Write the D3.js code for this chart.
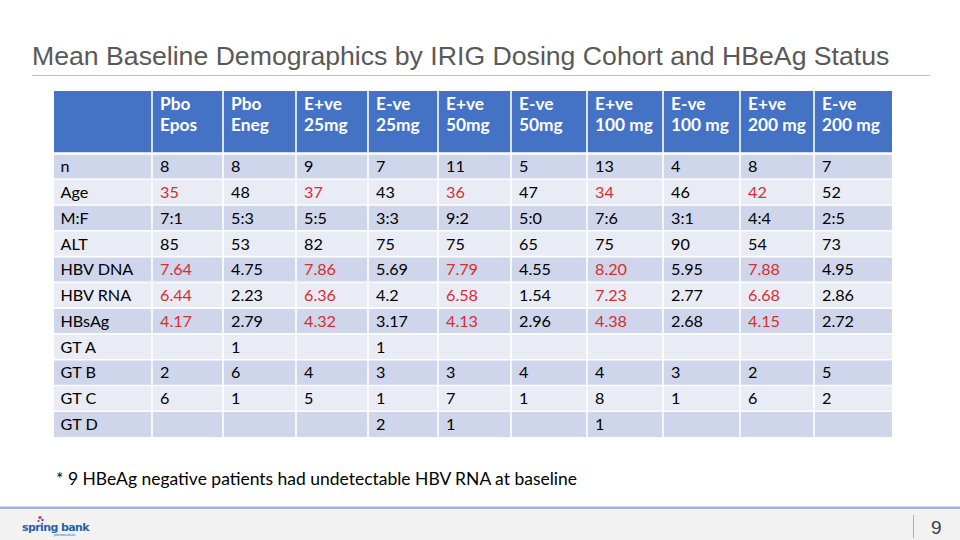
<!DOCTYPE html>
<html><head><meta charset="utf-8">
<script src="https://cdn.jsdelivr.net/npm/d3@7"></script>
<style>html,body{margin:0;padding:0;background:#fff;overflow:hidden}</style>
</head><body><svg id="c" width="960" height="540"></svg>
<script>
// ---- data ----
const title = "Mean Baseline Demographics by IRIG Dosing Cohort and HBeAg Status";
const headerLine1 = ["Pbo","Pbo","E+ve","E-ve","E+ve","E-ve","E+ve","E-ve","E+ve","E-ve"];
const headerLine2 = ["Epos","Eneg","25mg","25mg","50mg","50mg","100 mg","100 mg","200 mg","200 mg"];
const rowLabels = ["n","Age","M:F","ALT","HBV DNA","HBV RNA","HBsAg","GT A","GT B","GT C","GT D"];
const nRow     = ["8","8","9","7","11","5","13","4","8","7"];
const ageRow   = ["35","48","37","43","36","47","34","46","42","52"];
const mfRow    = ["7:1","5:3","5:5","3:3","9:2","5:0","7:6","3:1","4:4","2:5"];
const altRow   = ["85","53","82","75","75","65","75","90","54","73"];
const dnaRow   = ["7.64","4.75","7.86","5.69","7.79","4.55","8.20","5.95","7.88","4.95"];
const rnaRow   = ["6.44","2.23","6.36","4.2","6.58","1.54","7.23","2.77","6.68","2.86"];
const hbsagRow = ["4.17","2.79","4.32","3.17","4.13","2.96","4.38","2.68","4.15","2.72"];
const gtARow   = ["","1","","1","","","","","",""];
const gtBRow   = ["2","6","4","3","3","4","4","3","2","5"];
const gtCRow   = ["6","1","5","1","7","1","8","1","6","2"];
const gtDRow   = ["","","","2","1","","1","","",""];
const highlightRows = ["Age","HBV DNA","HBV RNA","HBsAg"];
const highlightCols = [0, 2, 4, 6, 8];
const footnote = "* 9 HBeAg negative patients had undetectable HBV RNA at baseline";
const pageNumber = "9";

const tableRows = [nRow,ageRow,mfRow,altRow,dnaRow,rnaRow,hbsagRow,gtARow,gtBRow,gtCRow,gtDRow];

// ---- layout ----
const svg = d3.select("#c");
const W = 960, H = 540;
const FONT = "Lato, 'Open Sans', sans-serif";

// title
const t = svg.append("text").text(title)
  .attr("x", 32).attr("y", 65)
  .attr("font-family", "'Liberation Sans', Arial, sans-serif")
  .attr("font-size", 26).attr("fill", "#595959");
const tw = t.node().getComputedTextLength();
t.attr("font-size", 26 * 858 / tw);

svg.append("line").attr("x1", 32).attr("x2", 930).attr("y1", 75.5).attr("y2", 75.5)
  .attr("stroke", "#BDBDBD").attr("stroke-width", 1);

// columns
const colWidths = [98, 71, 73, 72, 70, 73, 76, 76, 77, 74, 78];
const colEdges = [54];
colWidths.forEach(w => colEdges.push(colEdges[colEdges.length-1] + w));
const colIdx = d3.range(colWidths.length);

const headerTop = 91, headerBottom = 153.5, tableBottom = 437;
const y = d3.scaleBand().domain(rowLabels).range([headerBottom, tableBottom]);

// header background
svg.append("g").selectAll("rect").data(colIdx).join("rect")
  .attr("x", i => colEdges[i]).attr("y", headerTop)
  .attr("width", i => colWidths[i]).attr("height", headerBottom - headerTop)
  .attr("fill", "#4472C4");

// body background
svg.append("g").selectAll("rect").data(rowLabels).join("rect")
  .attr("x", colEdges[0]).attr("y", d => y(d))
  .attr("width", colEdges[colEdges.length-1] - colEdges[0]).attr("height", y.bandwidth())
  .attr("fill", (d, i) => i % 2 === 0 ? "#CFD5EA" : "#E9EBF5");

// white grid lines
const grid = svg.append("g").attr("stroke", "#fff").attr("stroke-width", 1.6);
grid.selectAll("line.v").data(colEdges.slice(1, -1)).join("line").attr("class","v")
  .attr("x1", d => d).attr("x2", d => d).attr("y1", headerTop).attr("y2", tableBottom);
grid.selectAll("line.h").data(rowLabels).join("line").attr("class","h")
  .attr("x1", colEdges[0]).attr("x2", colEdges[colEdges.length-1])
  .attr("y1", d => y(d)).attr("y2", d => y(d))
  .attr("stroke-width", (d, i) => i === 0 ? 2.5 : 1.6);

// header text
const hdr = svg.append("g").attr("font-family", FONT).attr("font-weight", "bold")
  .attr("font-size", 17.3).attr("fill", "#fff");
hdr.selectAll("text.l1").data(headerLine1).join("text").attr("class","l1")
  .attr("x", (d, i) => colEdges[i+1] + 8).attr("y", 110).text(d => d);
hdr.selectAll("text.l2").data(headerLine2).join("text").attr("class","l2")
  .attr("x", (d, i) => colEdges[i+1] + 8).attr("y", 130.5).text(d => d);

// body text
const body = svg.append("g").attr("font-family", FONT).attr("font-size", 16.2);
body.selectAll("text.lab").data(rowLabels).join("text").attr("class","lab")
  .attr("x", colEdges[0] + 6.5).attr("y", d => y(d) + y.bandwidth()/2 + 5.9)
  .attr("fill", "#000").text(d => d);
rowLabels.forEach((lab, r) => {
  body.append("g").selectAll("text").data(tableRows[r]).join("text")
    .attr("x", (d, i) => colEdges[i+1] + 8)
    .attr("y", y(lab) + y.bandwidth()/2 + 5.9)
    .attr("fill", (d, i) => highlightRows.includes(lab) && highlightCols.includes(i) ? "#D32F2F" : "#000")
    .text(d => d);
});

// footnote
const fn = svg.append("text").text(footnote).attr("x", 56).attr("y", 485)
  .attr("font-family", FONT).attr("font-size", 16).attr("fill", "#000");
const fw = fn.node().getComputedTextLength();
fn.attr("font-size", 16 * 521 / fw);

// footer
svg.append("rect").attr("x", 0).attr("y", 508).attr("width", W).attr("height", H - 508).attr("fill", "#F2F2F2");
svg.append("rect").attr("x", 0).attr("y", 506.5).attr("width", W).attr("height", 2.5).attr("fill", "#9DB3D7");
svg.append("line").attr("x1", 913.5).attr("x2", 913.5).attr("y1", 515).attr("y2", 538)
  .attr("stroke", "#9DB3D7").attr("stroke-width", 1);
svg.append("text").text(pageNumber).attr("x", 931).attr("y", 534)
  .attr("font-family", "'Liberation Sans', Arial, sans-serif").attr("font-size", 19).attr("fill", "#404040");

// logo
const logo = svg.append("g");
logo.append("text").text("spring bank").attr("x", 22).attr("y", 531)
  .attr("font-family", "'DejaVu Sans', sans-serif").attr("font-size", 11).attr("font-weight", "bold")
  .attr("letter-spacing", -0.6).attr("fill", "#2B5FAA");
logo.append("text").text("pharmaceuticals").attr("x", 54).attr("y", 536)
  .attr("font-family", FONT).attr("font-size", 3).attr("fill", "#2B5FAA");
logo.append("circle").attr("cx", 40).attr("cy", 517.5).attr("r", 1.6).attr("fill", "#D9342B");
logo.append("circle").attr("cx", 42.5).attr("cy", 520).attr("r", 1.2).attr("fill", "#2B5FAA");
logo.append("circle").attr("cx", 38.5).attr("cy", 521).attr("r", 1.1).attr("fill", "#2B5FAA");
</script></body></html>
